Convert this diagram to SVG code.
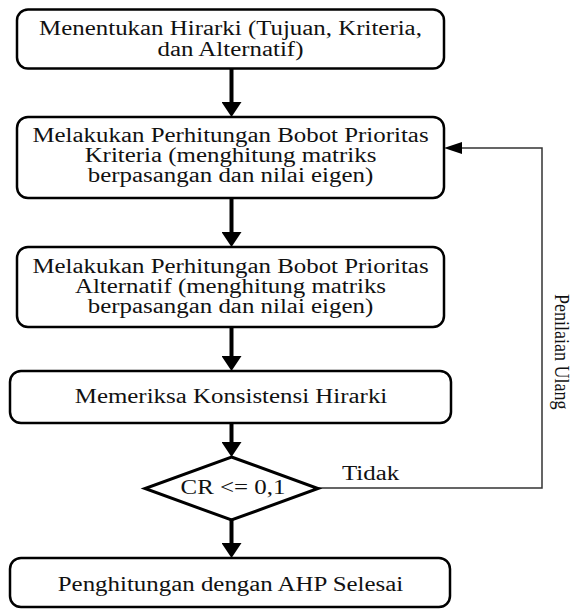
<svg xmlns="http://www.w3.org/2000/svg" width="577" height="610" viewBox="0 0 577 610">
<defs>
<style>
.box{fill:#fff;stroke:#000;stroke-width:2.5}
.t{font-family:"Liberation Serif","Times New Roman","DejaVu Serif",serif;font-size:20px;fill:#111;text-anchor:middle}
.tl{font-family:"Liberation Serif","Times New Roman","DejaVu Serif",serif;font-size:20px;fill:#111}
.thick{fill:none;stroke:#000;stroke-width:4}
.thin{fill:none;stroke:#333;stroke-width:1.5}
</style>
<marker id="bigHead" markerUnits="userSpaceOnUse" viewBox="0 0 15 20" refX="0" refY="10" markerWidth="15" markerHeight="20" orient="auto">
<path d="M0,0 L15,10 L0,20 z" fill="#000"/>
</marker>
<marker id="smallHead" markerUnits="userSpaceOnUse" viewBox="0 0 18 12" refX="0" refY="6" markerWidth="18" markerHeight="12" orient="auto">
<path d="M0,0 L18,6 L0,12 z" fill="#000"/>
</marker>
</defs>
<rect width="577" height="610" fill="#fff"/>

<g id="connectors">
<line class="thick" x1="231.5" y1="69" x2="231.5" y2="102" marker-end="url(#bigHead)"/>
<line class="thick" x1="231.5" y1="198" x2="231.5" y2="232" marker-end="url(#bigHead)"/>
<line class="thick" x1="231.5" y1="327" x2="231.5" y2="356" marker-end="url(#bigHead)"/>
<line class="thick" x1="231.5" y1="423" x2="231.5" y2="442" marker-end="url(#bigHead)"/>
<line class="thick" x1="231.5" y1="520" x2="231.5" y2="543" marker-end="url(#bigHead)"/>
<polyline class="thin" points="318,488 542,488 542,148 462,148" marker-end="url(#smallHead)"/>
<text class="tl" font-family="Liberation Serif, serif" transform="translate(342,480) scale(1.245,1)">Tidak</text>
<text class="tl" font-family="Liberation Serif, serif" style="font-size:18px" transform="translate(555,294) rotate(90) scale(1,1.2)">Penilaian Ulang</text>
</g>

<g id="node1" font-family="Liberation Serif, serif">
<rect class="box" x="17" y="9.5" width="427" height="59" rx="11"/>
<text class="t" transform="translate(230.5,35) scale(1.245,1)">Menentukan Hirarki (Tujuan, Kriteria,</text>
<text class="t" transform="translate(230.5,56) scale(1.245,1)">dan Alternatif)</text>
</g>

<g id="node2" font-family="Liberation Serif, serif">
<rect class="box" x="17" y="117" width="427" height="81" rx="11"/>
<text class="t" transform="translate(230.5,142) scale(1.245,1)">Melakukan Perhitungan Bobot Prioritas</text>
<text class="t" transform="translate(230.5,162) scale(1.245,1)">Kriteria (menghitung matriks</text>
<text class="t" transform="translate(230.5,182) scale(1.245,1)">berpasangan dan nilai eigen)</text>
</g>

<g id="node3" font-family="Liberation Serif, serif">
<rect class="box" x="17" y="247" width="427" height="80" rx="11"/>
<text class="t" transform="translate(230.5,273) scale(1.245,1)">Melakukan Perhitungan Bobot Prioritas</text>
<text class="t" transform="translate(230.5,293) scale(1.245,1)">Alternatif (menghitung matriks</text>
<text class="t" transform="translate(230.5,313) scale(1.245,1)">berpasangan dan nilai eigen)</text>
</g>

<g id="node4" font-family="Liberation Serif, serif">
<rect class="box" x="10" y="371" width="441" height="52" rx="11"/>
<text class="t" transform="translate(231,403) scale(1.245,1)">Memeriksa Konsistensi Hirarki</text>
</g>

<g id="node5" font-family="Liberation Serif, serif">
<polygon points="231.5,457 318,488.5 231.5,520 145,488.5" fill="#fff" stroke="#000" stroke-width="3" stroke-linejoin="miter"/>
<text class="t" transform="translate(233,494) scale(1.245,1)">CR &lt;= 0,1</text>
</g>

<g id="node6" font-family="Liberation Serif, serif">
<rect class="box" x="10" y="558" width="440" height="49" rx="11"/>
<text class="t" transform="translate(230.5,591) scale(1.245,1)">Penghitungan dengan AHP Selesai</text>
</g>
</svg>
